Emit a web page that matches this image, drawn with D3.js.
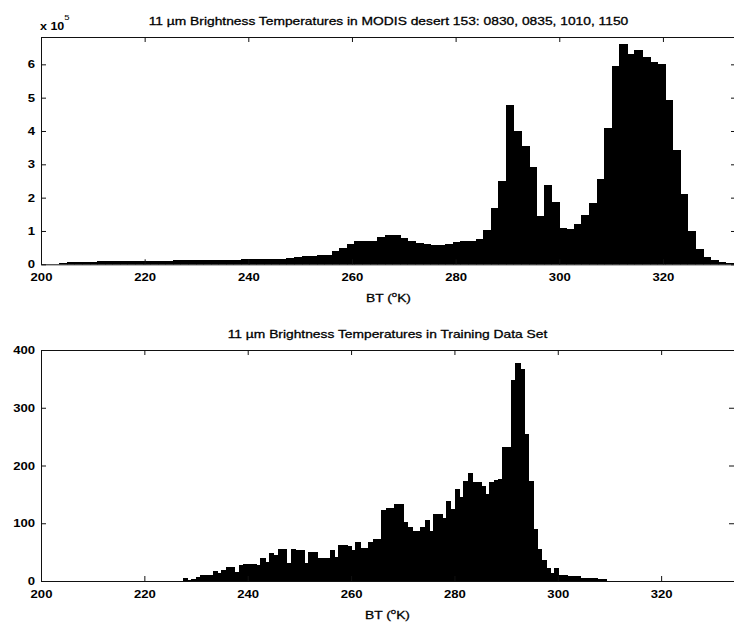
<!DOCTYPE html>
<html><head><meta charset="utf-8">
<script src="https://cdn.jsdelivr.net/npm/d3@7/dist/d3.min.js"></script>
<style>
body{margin:0;background:#fff;}
svg{display:block;}
</style></head><body>
<svg id="chart" width="734" height="623"></svg>
<script>
// ---------------- data ----------------
const topTitle = "11 µm Brightness Temperatures in MODIS desert 153: 0830, 0835, 1010, 1150";
const bottomTitle = "11 µm Brightness Temperatures in Training Data Set";
const xTicks = [200, 220, 240, 260, 280, 300, 320];
const topYTicks = [0, 100000, 200000, 300000, 400000, 500000, 600000];
const bottomYTicks = [0, 100, 200, 300, 400];
const xDomain = [200, 334.1];
const topYDomain = [0, 682000];
const bottomYDomain = [0, 400];

// top histogram (MODIS scene), bins of ~1.46 K
const topBinStart = 203.64;
const topBinWidth = 1.46;
const topCounts = [
  2000, 4000, 6000, 6000, 6000, 7000, 7000, 7000, 8000, 8000,
  8000, 8000, 9000, 9000, 9000, 10000, 10000, 11000, 11000, 11000,
  11000, 12000, 12000, 12000, 13000, 13000, 13000, 14000, 15000, 15000,
  16000, 21000, 22000, 22000, 26000, 27000, 37000, 48000, 58000, 67000,
  68000, 69000, 79000, 87000, 87000, 77000, 68000, 63000, 58000, 55000,
  56000, 60000, 66000, 67000, 68000, 75000, 101000, 166000, 247000, 477000,
  397000, 353000, 291000, 143000, 236000, 185000, 107000, 105000, 120000, 147000,
  183000, 253000, 406000, 593000, 660000, 630000, 641000, 620000, 606000, 600000,
  490000, 340000, 210000, 98000, 43000, 20000, 11000, 6000, 3000
];

// bottom histogram (training data set), bins of ~0.836 K
const bottomBinStart = 227.5;
const bottomBinWidth = 0.836;
const bottomCounts = [
  4, 1, 2, 6, 9, 9, 9, 16, 13, 19,
  23, 24, 14, 27, 29, 29, 28, 26, 39, 32,
  47, 45, 54, 54, 31, 54, 53, 53, 31, 49,
  49, 39, 39, 39, 53, 40, 61, 61, 59, 53,
  67, 57, 57, 67, 71, 71, 122, 126, 126, 132,
  132, 101, 93, 85, 86, 92, 104, 86, 115, 116,
  109, 138, 123, 158, 144, 173, 187, 171, 170, 164,
  150, 170, 174, 175, 231, 232, 347, 376, 367, 254,
  173, 89, 54, 36, 22, 13, 22, 10, 9, 8,
  7, 7, 5, 5, 4, 4, 2, 3
];

// ---------------- drawing ----------------
const svg = d3.select("#chart");
const FONT = "'Liberation Sans', Arial, Helvetica, sans-serif";
const STRETCH = 1.19; // glyphs in the original are horizontally wide

function stretch(sel) {
  sel.each(function () {
    const w = this.getComputedTextLength();
    if (w > 0) d3.select(this).attr("textLength", w * STRETCH).attr("lengthAdjust", "spacingAndGlyphs");
  });
}

function panel(opts) {
  const {left, right, top, bottom, yDomain, yTicks, yFmt, binStart, binWidth, counts, title, id} = opts;
  const x = d3.scaleLinear().domain(xDomain).range([left, right]);
  const y = d3.scaleLinear().domain(yDomain).range([bottom, top]);
  const g = svg.append("g");

  g.append("clipPath").attr("id", id).append("rect")
    .attr("x", left).attr("y", top).attr("width", right - left).attr("height", bottom - top);

  const bins = counts.map((c, i) => ({x0: binStart + i * binWidth, x1: binStart + (i + 1) * binWidth, c}));
  g.append("g").attr("clip-path", `url(#${id})`).attr("shape-rendering", "crispEdges")
    .selectAll("rect").data(bins).join("rect")
    .attr("x", d => x(d.x0))
    .attr("width", d => x(d.x1) - x(d.x0))
    .attr("y", d => y(d.c))
    .attr("height", d => y(0) - y(d.c))
    .attr("fill", "#000")
    .attr("stroke", "#000")
    .attr("stroke-width", 1);

  const style = sel => {
    sel.attr("font-family", FONT).attr("font-size", 11).attr("font-weight", "bold");
    sel.selectAll("path,line").attr("stroke", "#111").attr("stroke-width", 1);
    sel.selectAll("text").attr("fill", "#000").call(stretch);
  };

  g.append("g").attr("transform", `translate(0,${bottom})`)
    .call(d3.axisBottom(x).tickValues(xTicks).tickSizeInner(-5).tickSizeOuter(0).tickPadding(9))
    .call(style);
  g.append("g").attr("transform", `translate(0,${top})`)
    .call(d3.axisTop(x).tickValues(xTicks).tickSizeInner(-5).tickSizeOuter(0).tickFormat(""))
    .call(style);
  g.append("g").attr("transform", `translate(${left},0)`)
    .call(d3.axisLeft(y).tickValues(yTicks).tickSizeInner(-5).tickSizeOuter(0).tickPadding(6).tickFormat(yFmt))
    .call(style);
  g.append("g").attr("transform", `translate(${right},0)`)
    .call(d3.axisRight(y).tickValues(yTicks).tickSizeInner(-5).tickSizeOuter(0).tickFormat(""))
    .call(style);

  const cx = (left + right) / 2;
  g.append("text").attr("x", cx).attr("y", top - 12)
    .attr("text-anchor", "middle").attr("font-family", FONT).attr("font-size", 11.6)
    .attr("stroke", "#000").attr("stroke-width", 0.3)
    .text(title).call(stretch);

  const xl = g.append("text").attr("x", cx).attr("y", bottom + 38)
    .attr("text-anchor", "middle").attr("font-family", FONT).attr("font-size", 11.6)
    .attr("stroke", "#000").attr("stroke-width", 0.3);
  xl.append("tspan").text("BT (");
  xl.append("tspan").attr("dy", -5).attr("font-size", 8).text("o");
  xl.append("tspan").attr("dy", 5).text("K)");
  xl.call(stretch);
  return {x, y, g};
}

const p1 = panel({
  id: "clipTop", left: 41, right: 736, top: 37, bottom: 264.3,
  yDomain: topYDomain, yTicks: topYTicks, yFmt: d => d / 100000,
  binStart: topBinStart, binWidth: topBinWidth, counts: topCounts, title: topTitle
});

// multiplier label
const mult = p1.g.append("text").attr("x", 40).attr("y", 29.5)
  .attr("font-family", FONT).attr("font-size", 10.5).attr("font-weight", "bold");
mult.append("tspan").text("x 10");
mult.append("tspan").attr("dy", -10).attr("font-size", 8).attr("font-weight", "normal").text("5");
mult.call(stretch);

panel({
  id: "clipBottom", left: 41, right: 734, top: 350, bottom: 581,
  yDomain: bottomYDomain, yTicks: bottomYTicks, yFmt: d => d,
  binStart: bottomBinStart, binWidth: bottomBinWidth, counts: bottomCounts, title: bottomTitle
});
</script>
</body></html>
